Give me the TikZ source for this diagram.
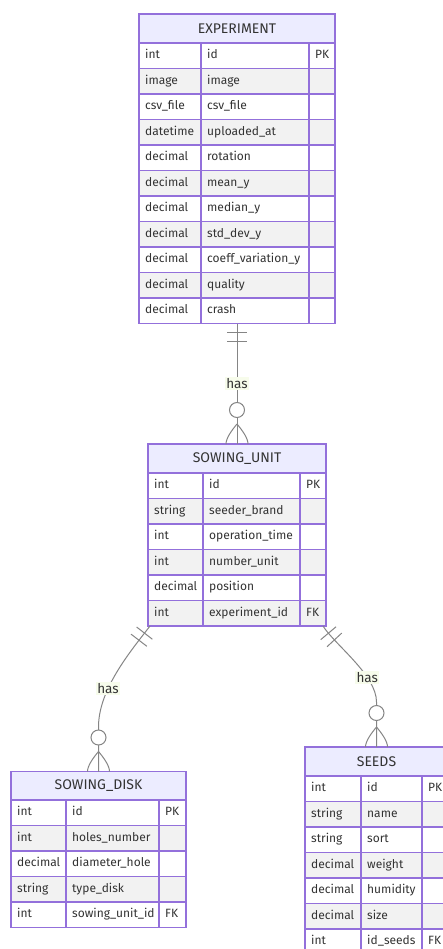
\documentclass[tikz,border=0pt]{standalone}
\usepackage{fontspec}
\setmainfont{Fira Sans}
\usetikzlibrary{decorations.markings}

\definecolor{erpurple}{HTML}{9370DB}
\definecolor{headfill}{HTML}{ECECFF}
\definecolor{rowgray}{HTML}{F2F2F2}
\definecolor{textgray}{HTML}{333333}
\definecolor{linegray}{HTML}{858585}
\definecolor{labelfill}{HTML}{F7FCEB}

\begin{document}
\begin{tikzpicture}[x=1pt, y=-1pt,
    erline/.style={draw=erpurple, line width=1.3pt},
    erhead/.style={erline, fill=headfill, minimum height=29pt, inner sep=0pt, outer sep=0pt,
      text=textgray, font=\fontsize{14}{16}\selectfont},
    erframe/.style={erline, inner sep=0pt, outer sep=0pt},
    cell/.style={anchor=west, inner sep=0pt, text=textgray, font=\fontsize{12}{14}\selectfont,
      text height=8.5pt, text depth=2.5pt},
    haslabel/.style={fill=labelfill, inner sep=1.5pt, text=textgray, font=\fontsize{13.5}{15}\selectfont},
    relline/.style={draw=linegray, line width=1pt,
      postaction={decorate, decoration={markings,
        mark=at position 9pt with {\draw[linegray, line width=1pt] (0pt,-10pt) -- (0pt,10pt);},
        mark=at position 18pt with {\draw[linegray, line width=1pt] (0pt,-10pt) -- (0pt,10pt);},
        mark=at position 1 with {
          \draw[linegray, line width=1pt, fill=white] (-34pt,0pt) circle (7.5pt);
          \draw[linegray, line width=1pt] (-20pt,0pt) .. controls (-14pt,5pt) and (-6pt,11pt) .. (0pt,11pt);
          \draw[linegray, line width=1pt] (-20pt,0pt) .. controls (-14pt,-5pt) and (-6pt,-11pt) .. (0pt,-11pt);}}}}]

  \useasboundingbox (0,0) rectangle (443,949);
  \clip (0,0) rectangle (443,949);

  % EXPERIMENT
  \foreach \ty/\nm/\ky [count=\i] in
    {int/id/PK, image/image/{}, csv\_file/csv\_file/{}, datetime/uploaded\_at/{},
     decimal/rotation/{}, decimal/mean\_y/{}, decimal/median\_y/{}, decimal/std\_dev\_y/{},
     decimal/coeff\_variation\_y/{}, decimal/quality/{}, decimal/crash/{}} {
    \pgfmathsetmacro{\y}{43+(\i-1)*25.5}
    \ifodd\i \def\rowfill{white}\else \def\rowfill{rowgray}\fi
    \filldraw[erline, fill=\rowfill] (139,\y) rectangle (335,\y+25.5);
    \node[cell] (exp-ty\i) at (145,\y+12.75) {\ty};
    \node[cell] (exp-nm\i) at (207,\y+12.75) {\nm};
    \node[cell] (exp-ky\i) at (315,\y+12.75) {\ky};
  }
  \draw[erline] (201,43) -- (201,323.5) (309,43) -- (309,323.5);
  \node[erhead, minimum width=196pt] (exphead) at (237,28.5) {EXPERIMENT};
  \node[erframe, minimum width=196pt, minimum height=309.5pt] (experiment) at (237,168.75) {};

  % SOWING_UNIT
  \foreach \ty/\nm/\ky [count=\i] in
    {int/id/PK, string/seeder\_brand/{}, int/operation\_time/{}, int/number\_unit/{},
     decimal/position/{}, int/experiment\_id/FK} {
    \pgfmathsetmacro{\y}{473+(\i-1)*25.5}
    \ifodd\i \def\rowfill{white}\else \def\rowfill{rowgray}\fi
    \filldraw[erline, fill=\rowfill] (148,\y) rectangle (326,\y+25.5);
    \node[cell] (unit-ty\i) at (154,\y+12.75) {\ty};
    \node[cell] (unit-nm\i) at (209,\y+12.75) {\nm};
    \node[cell] (unit-ky\i) at (306,\y+12.75) {\ky};
  }
  \draw[erline] (203,473) -- (203,626) (300,473) -- (300,626);
  \node[erhead, minimum width=178pt] (unithead) at (237,458.5) {SOWING\_UNIT};
  \node[erframe, minimum width=178pt, minimum height=182pt] (sowingunit) at (237,535) {};

  % SOWING_DISK
  \foreach \ty/\nm/\ky [count=\i] in
    {int/id/PK, int/holes\_number/{}, decimal/diameter\_hole/{}, string/type\_disk/{},
     int/sowing\_unit\_id/FK} {
    \pgfmathsetmacro{\y}{800+(\i-1)*25.5}
    \ifodd\i \def\rowfill{white}\else \def\rowfill{rowgray}\fi
    \filldraw[erline, fill=\rowfill] (11,\y) rectangle (186,\y+25.5);
    \node[cell] (disk-ty\i) at (17,\y+12.75) {\ty};
    \node[cell] (disk-nm\i) at (72,\y+12.75) {\nm};
    \node[cell] (disk-ky\i) at (165,\y+12.75) {\ky};
  }
  \draw[erline] (66,800) -- (66,927.5) (159,800) -- (159,927.5);
  \node[erhead, minimum width=175pt, minimum height=28.5pt] (diskhead) at (98.5,785.75) {SOWING\_DISK};
  \node[erframe, minimum width=175pt, minimum height=156pt] (sowingdisk) at (98.5,849.5) {};

  % SEEDS
  \foreach \ty/\nm/\ky [count=\i] in
    {int/id/PK, string/name/{}, string/sort/{}, decimal/weight/{},
     decimal/humidity/{}, decimal/size/{}, int/id\_seeds/FK} {
    \pgfmathsetmacro{\y}{776+(\i-1)*25.5}
    \ifodd\i \def\rowfill{white}\else \def\rowfill{rowgray}\fi
    \filldraw[erline, fill=\rowfill] (305,\y) rectangle (448,\y+25.5);
    \node[cell] (seed-ty\i) at (311,\y+12.75) {\ty};
    \node[cell] (seed-nm\i) at (367,\y+12.75) {\nm};
    \node[cell] (seed-ky\i) at (428,\y+12.75) {\ky};
  }
  \draw[erline] (361,776) -- (361,954.5) (422,776) -- (422,954.5);
  \node[erhead, minimum width=143pt] (seedhead) at (376.5,761.5) {SEEDS};
  \node[erframe, minimum width=143pt, minimum height=207.5pt] (seeds) at (376.5,850.75) {};

  % Relationships
  \draw[relline] (experiment.south) -- node[haslabel] (has1) {has} (sowingunit.north);
  \draw[relline] ([xshift=2pt]sowingunit.south west) .. controls (130,652) and (98,690) ..
    node[haslabel, pos=0.65] (has2) {has} (98.5,728) -- (sowingdisk.north);
  \draw[relline] ([xshift=-3pt]sowingunit.south east) .. controls (335,645) and (376.5,675) ..
    node[haslabel, pos=0.7] (has3) {has} (376.5,702) -- (seeds.north);

\end{tikzpicture}
\end{document}
